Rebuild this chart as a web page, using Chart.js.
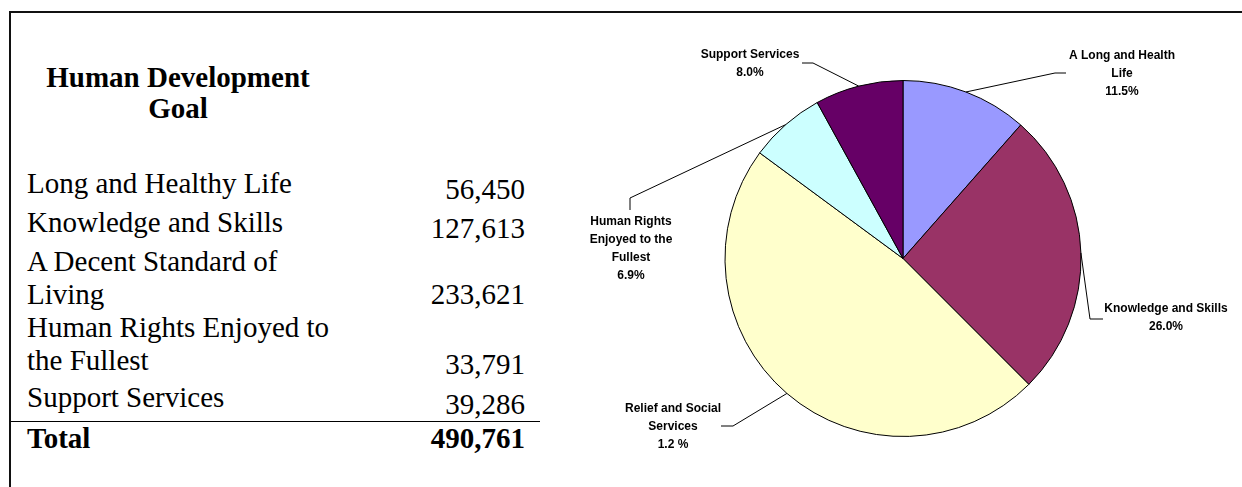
<!DOCTYPE html>
<html>
<head>
<meta charset="utf-8">
<title>Human Development Goal</title>
<script src="https://cdn.jsdelivr.net/npm/chart.js@4.4.1/dist/chart.umd.min.js"></script>
<style>
  html, body { margin: 0; padding: 0; background: #fff; }
  body { width: 1242px; height: 487px; position: relative; overflow: hidden; }
  #frame {
    position: absolute; left: 9px; top: 11px; width: 1240px; height: 480px;
    border-top: 2px solid #111; border-left: 2px solid #111;
  }
  #goal-title {
    position: absolute; left: 28px; top: 62px; width: 300px;
    font: bold 29px/31px "Liberation Serif", "Times New Roman", serif;
    text-align: center;
  }
  #goal-table {
    position: absolute; left: 11px; top: 167px;
    border-collapse: collapse;
    font: 29px/33px "Liberation Serif", "Times New Roman", serif;
  }
  #goal-table td { padding: 0; }
  #goal-table td.name { width: 325px; padding-left: 16px; vertical-align: top; }
  #goal-table td.amount { width: 173px; padding-right: 15px; text-align: right; vertical-align: bottom; }
  #goal-table tr.total td { border-top: 1.5px solid #000; font-weight: bold; vertical-align: top; }
  #pie { position: absolute; left: 560px; top: 14px; }
</style>
</head>
<body>
<div id="frame"></div>
<div id="goal-title">Human Development Goal</div>
<table id="goal-table"></table>
<canvas id="pie" width="682" height="473"></canvas>

<script>
// table rows and amounts
const goalNames = [
  'Long and Healthy Life',
  'Knowledge and Skills',
  'A Decent Standard of Living',
  'Human Rights Enjoyed to the Fullest',
  'Support Services'
];
const goalSpend = [56450, 127613, 233621, 33791, 39286];

// pie callout text, one array per slice
const sliceNames = [
  ['A Long and Health', 'Life'],
  ['Knowledge and Skills'],
  ['Relief and Social', 'Services'],
  ['Human Rights', 'Enjoyed to the', 'Fullest'],
  ['Support Services']
];
const slicePct = ['11.5%', '26.0%', '1.2 %', '6.9%', '8.0%'];

// styling / layout
const sliceColors = ['#9999ff', '#993366', '#ffffcc', '#ccffff', '#660066'];
const rowHeights = [39, 39, 66, 70, 40];
// offsets from the pie centre: text = first line centre, knee/end = leader line
const calloutLayout = [
  { text: [219, -202.5], knee: [152, -185.5], end: [163, -185.5] },
  { text: [263, 50.5],   knee: [187, 60.5],   end: [200, 60.5] },
  { text: [-230, 150.5], knee: [-170, 167.5], end: [-182, 167.5] },
  { text: [-272, -37],   knee: [-273, -60.5], end: [-273, -48.5] },
  { text: [-153, -203.5], knee: [-90, -195.5], end: [-101, -195.5] }
];

// TABLE
const fmt = n => n.toLocaleString('en-US');
const table = document.getElementById('goal-table');
goalNames.forEach((name, i) => {
  const tr = table.insertRow();
  tr.style.height = rowHeights[i] + 'px';
  const a = tr.insertCell(); a.className = 'name'; a.textContent = name;
  const b = tr.insertCell(); b.className = 'amount'; b.textContent = fmt(goalSpend[i]);
});
const totalRow = table.insertRow();
totalRow.className = 'total';
totalRow.style.height = '40px';
const t1 = totalRow.insertCell(); t1.className = 'name'; t1.textContent = 'Total';
const t2 = totalRow.insertCell(); t2.className = 'amount';
t2.textContent = fmt(goalSpend.reduce((s, v) => s + v, 0));

// PIE CALLOUTS
const callouts = {
  id: 'callouts',
  afterDatasetsDraw(chart) {
    const ctx = chart.ctx;
    const arcs = chart.getDatasetMeta(0).data;
    ctx.save();
    ctx.strokeStyle = '#000';
    ctx.fillStyle = '#000';
    ctx.lineWidth = 1;
    ctx.font = 'bold 12px "Liberation Sans", Arial, sans-serif';
    ctx.textAlign = 'center';
    ctx.textBaseline = 'middle';
    arcs.forEach((arc, i) => {
      const { x, y, startAngle, endAngle, outerRadius } =
        arc.getProps(['x', 'y', 'startAngle', 'endAngle', 'outerRadius'], true);
      const mid = (startAngle + endAngle) / 2;
      const lay = calloutLayout[i];
      ctx.beginPath();
      ctx.moveTo(x + Math.cos(mid) * outerRadius, y + Math.sin(mid) * outerRadius);
      ctx.lineTo(x + lay.knee[0], y + lay.knee[1]);
      ctx.lineTo(x + lay.end[0], y + lay.end[1]);
      ctx.stroke();
      sliceNames[i].concat(slicePct[i]).forEach((line, k) => {
        ctx.fillText(line, x + lay.text[0], y + lay.text[1] + k * 18);
      });
    });
    ctx.restore();
  }
};

// CHART
new Chart(document.getElementById('pie'), {
  type: 'pie',
  data: {
    labels: sliceNames.map(l => l.join(' ')),
    datasets: [{
      data: goalSpend,
      backgroundColor: sliceColors,
      borderColor: '#000',
      borderWidth: 1
    }]
  },
  options: {
    responsive: false,
    animation: false,
    devicePixelRatio: 1,
    radius: 178,
    layout: { padding: { left: 4, top: 16 } },
    plugins: {
      legend: { display: false },
      tooltip: { enabled: false }
    }
  },
  plugins: [callouts]
});
</script>
</body>
</html>
